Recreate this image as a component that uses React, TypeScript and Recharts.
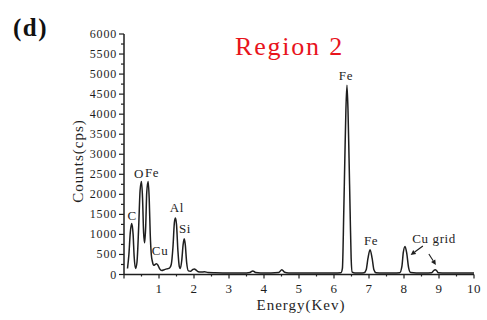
import React from 'react';
import { LineChart, Line, XAxis, YAxis, ReferenceDot, ReferenceLine } from 'recharts';

const energy = [
  0.10, 0.14, 0.18, 0.22, 0.26, 0.29, 0.33, 0.37, 0.42, 0.46, 0.50, 0.53, 0.56, 0.59, 0.62, 0.65, 0.69, 0.72, 0.75, 0.78,
  0.81, 0.85, 0.89, 0.93, 0.97, 1.02, 1.08, 1.15, 1.22, 1.30, 1.35, 1.40, 1.44, 1.47, 1.50, 1.54, 1.58, 1.61, 1.65, 1.69,
  1.72, 1.75, 1.79, 1.84, 1.90, 1.96, 2.01, 2.06, 2.12, 2.20, 2.30, 2.40, 2.60, 3.00, 3.50, 3.60, 3.68, 3.76, 3.90, 4.20,
  4.42, 4.51, 4.59, 4.70, 5.00, 5.50, 6.00, 6.20, 6.24, 6.28, 6.31, 6.34, 6.37, 6.40, 6.43, 6.46, 6.49, 6.52, 6.60, 6.75,
  6.86, 6.92, 6.97, 7.03, 7.09, 7.14, 7.20, 7.40, 7.70, 7.88, 7.94, 7.98, 8.03, 8.08, 8.13, 8.19, 8.35, 8.60, 8.79, 8.85,
  8.89, 8.93, 8.98, 9.20, 9.50, 10.00,
];
const counts = [
  150, 500, 1050, 1270, 1000, 450, 150, 300, 1200, 2100, 2320, 1900, 1050, 790, 1200, 2050, 2320, 1900, 1000, 500,
  330, 230, 250, 270, 230, 140, 100, 120, 140, 160, 250, 700, 1300, 1410, 1250, 600, 200, 150, 350, 750,
  890, 750, 300, 90, 80, 120, 140, 110, 70, 60, 70, 50, 45, 40, 40, 50, 90, 50, 40, 40,
  50, 120, 55, 40, 40, 40, 40, 45, 150, 1600, 2900, 4100, 4720, 4100, 2900, 1600, 400, 60, 40, 40,
  45, 120, 400, 620, 400, 120, 45, 40, 40, 45, 200, 550, 700, 520, 180, 50, 40, 40, 45, 100,
  120, 100, 45, 40, 40, 40,
];

const yTicks = Array.from({ length: 25 }, (_, i) => i * 250);
const xTicks = Array.from({ length: 21 }, (_, i) => i * 0.5);

const peakLabels = ['C', 'O', 'Fe', 'Cu', 'Al', 'Si', 'Fe', 'Fe', 'Cu grid'];
const peakLabelEnergy = [0.23, 0.43, 0.80, 1.03, 1.51, 1.74, 6.34, 7.06, 8.86];
const peakLabelCounts = [1460, 2510, 2540, 590, 1660, 1140, 4960, 840, 910];

const arrowFromEnergy = [8.54, 8.71];
const arrowFromCounts = [712, 512];
const arrowToEnergy = [8.19, 8.91];
const arrowToCounts = [487, 237];

const data = energy.map((e, i) => ({ e, c: counts[i] }));

const FONT = '"Liberation Serif", "Times New Roman", serif';
const INK = '#1e1e1e';

const YTick = (props: any) => {
  const { x, y, payload } = props;
  const major = payload.value % 500 === 0;
  return (
    <g>
      <line x1={x} y1={y} x2={x - (major ? 5 : 3)} y2={y} stroke={INK} strokeWidth={1.2} />
      {major && (
        <text x={x - 7} y={y + 4} textAnchor="end" fontFamily={FONT} fontSize={12} letterSpacing={0.8} fill={INK}>
          {payload.value}
        </text>
      )}
    </g>
  );
};

const XTick = (props: any) => {
  const { x, y, payload } = props;
  const major = Number.isInteger(payload.value);
  return (
    <g>
      <line x1={x} y1={y} x2={x} y2={y + (major ? 4 : 2)} stroke={INK} strokeWidth={1.2} />
      {major && payload.value > 0 && (
        <text x={x} y={y + 18} textAnchor="middle" fontFamily={FONT} fontSize={13} letterSpacing={0.5} fill={INK}>
          {payload.value}
        </text>
      )}
    </g>
  );
};

const Arrow = (props: any) => {
  const { x1, y1, x2, y2 } = props;
  const ang = Math.atan2(y2 - y1, x2 - x1);
  const L = 5;
  const W = 2.5;
  const bx = x2 - L * Math.cos(ang);
  const by = y2 - L * Math.sin(ang);
  const px = -Math.sin(ang) * W;
  const py = Math.cos(ang) * W;
  return (
    <g>
      <line x1={x1} y1={y1} x2={bx} y2={by} stroke={INK} strokeWidth={1.1} />
      <polygon points={`${x2},${y2} ${bx + px},${by + py} ${bx - px},${by - py}`} fill={INK} />
    </g>
  );
};

export default function App() {
  return (
    <div style={{ position: 'absolute', left: 0, top: 0, width: 487, height: 320, background: '#fff' }}>
      <div style={{ position: 'absolute', left: 13, top: 13, fontFamily: FONT, fontWeight: 'bold', fontSize: 25, letterSpacing: 1.5, color: '#111', lineHeight: '30px' }}>
        (d)
      </div>
      <div style={{ position: 'absolute', left: 235, top: 32, fontFamily: FONT, fontSize: 26, letterSpacing: 1.8, color: '#e8141c', lineHeight: '30px' }}>
        Region 2
      </div>
      <LineChart width={487} height={320} data={data} margin={{ top: 34, right: 13, bottom: 0, left: 0 }}>
        <XAxis
          dataKey="e"
          type="number"
          domain={[0, 10]}
          ticks={xTicks}
          interval={0}
          tickSize={0}
          tickMargin={0}
          tickLine={false}
          tick={<XTick />}
          axisLine={{ stroke: INK, strokeWidth: 1.5 }}
          height={45.5}
          label={(p: any) => (
            <text x={301} y={310} textAnchor="middle" fontFamily={FONT} fontSize={15} letterSpacing={1} fill={INK}>
              Energy(Kev)
            </text>
          )}
        />
        <YAxis
          type="number"
          domain={[0, 6000]}
          ticks={yTicks}
          interval={0}
          width={124}
          tickSize={0}
          tickMargin={0}
          tickLine={false}
          tick={<YTick />}
          axisLine={{ stroke: INK, strokeWidth: 1.5 }}
          label={(p: any) => (
            <text x={83} y={161} transform="rotate(-90 83 161)" textAnchor="middle" fontFamily={FONT} fontSize={15} letterSpacing={1} fill={INK}>
              Counts(cps)
            </text>
          )}
        />
        <Line
          type="monotone"
          dataKey="c"
          stroke={INK}
          strokeWidth={1.5}
          dot={false}
          isAnimationActive={false}
        />
        {peakLabels.map((t, i) => (
          <ReferenceDot
            key={'pl' + i}
            x={peakLabelEnergy[i]}
            y={peakLabelCounts[i]}
            r={0}
            fill="none"
            stroke="none"
            label={(p: any) => (
              <text x={p.viewBox.x} y={p.viewBox.y + 4.5} textAnchor="middle" fontFamily={FONT} fontSize={13} letterSpacing={0.6} fill={INK}>
                {t}
              </text>
            )}
          />
        ))}
        {arrowFromEnergy.map((e, i) => (
          <ReferenceLine
            key={'ar' + i}
            segment={[
              { x: e, y: arrowFromCounts[i] },
              { x: arrowToEnergy[i], y: arrowToCounts[i] },
            ]}
            stroke={INK}
            shape={<Arrow />}
          />
        ))}
      </LineChart>
    </div>
  );
}
